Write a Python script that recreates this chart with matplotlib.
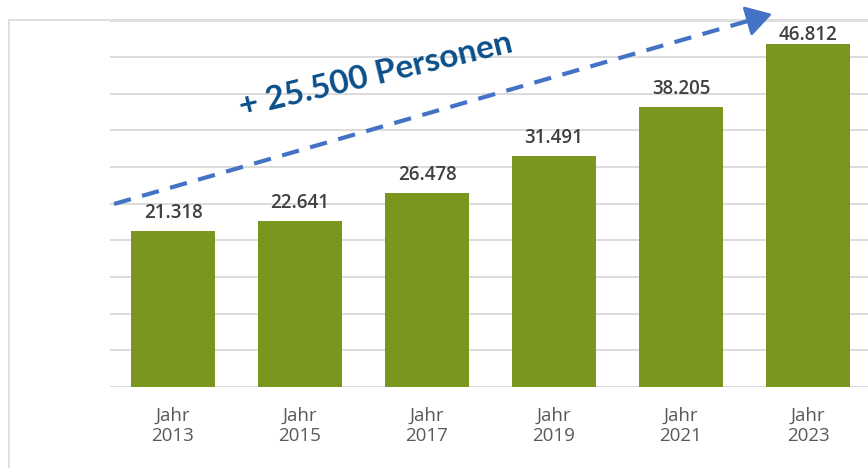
import numpy as np
import matplotlib
matplotlib.use("Agg")
import matplotlib.pyplot as plt
from matplotlib.lines import Line2D
from matplotlib.patches import Rectangle, FancyArrowPatch

# Zahl der Personen je Erhebungsjahr
years = ["2013", "2015", "2017", "2019", "2021", "2023"]
values = [21318, 22641, 26478, 31491, 38205, 46812]
value_labels = ["21.318", "22.641", "26.478", "31.491", "38.205", "46.812"]
growth_text = "+ 25.500 Personen"

bar_color = "#7a961e"
grid_color = "#d9d9d9"
arrow_color = "#4472c4"

W, H = 868, 468
fig = plt.figure(figsize=(W / 100, H / 100), dpi=100)

# outer frame of the chart area
fig.add_artist(Rectangle((9 / W, -0.1), 1.0, (H - 20) / H + 0.1, transform=fig.transFigure,
                         fill=False, edgecolor=grid_color, linewidth=1.2))

ax = fig.add_axes([109.5 / W, (H - 387) / H, 1 - 109.5 / W, (387 - 20.5) / H])
x = np.arange(len(years))
ax.bar(x, values, width=0.667, color=bar_color, zorder=3)

ax.set_xlim(-0.5, (W - 109.5) / 127 - 0.5)
ax.set_ylim(0, 50000)
ax.set_yticks(np.arange(0, 50001, 5000))
ax.yaxis.grid(True, color=grid_color, linewidth=1.3, zorder=0)
ax.tick_params(axis="y", left=False, labelleft=False)
ax.tick_params(axis="x", bottom=False, pad=11)
for s in ax.spines.values():
    s.set_visible(False)

ax.set_xticks(x)
ax.set_xticklabels(["Jahr\n" + y for y in years], fontfamily="Open Sans",
                   fontsize=13.5, color="#595959", linespacing=1.1)

# value labels; the top one sits tight on its bar so it stays inside the frame
for xi, v, lab in zip(x, values, value_labels):
    off = 9.5 if v < 45000 else 3
    ax.annotate(lab, (xi, v), xytext=(0, off), textcoords="offset points",
                ha="center", va="baseline", fontsize=13.5, fontfamily="Open Sans",
                fontweight="semibold", color="#404040", zorder=5)

# dashed growth arrow
x0, y0 = 114 / W, 1 - 204 / H
x1, y1 = 772 / W, 1 - 14 / H
t = 0.975
xm, ym = x0 + (x1 - x0) * t, y0 + (y1 - y0) * t
fig.add_artist(Line2D([x0, xm], [y0, ym], transform=fig.transFigure, color=arrow_color,
                      linewidth=3, linestyle=(0, (4.2, 2.8))))
fig.add_artist(FancyArrowPatch(
    (x0 + (x1 - x0) * 0.95, y0 + (y1 - y0) * 0.95), (x1, y1), transform=fig.transFigure,
    arrowstyle="-|>,head_length=1.0,head_width=0.6", mutation_scale=16,
    color=arrow_color, linewidth=2, shrinkA=0, shrinkB=0))

fig.text(376 / W, 1 - 75 / H, growth_text, rotation=13.5, ha="center", va="center",
         fontsize=24, fontfamily="Lato", fontweight="bold", color="#0b4f8a")

fig.savefig("out.png", dpi=100)
